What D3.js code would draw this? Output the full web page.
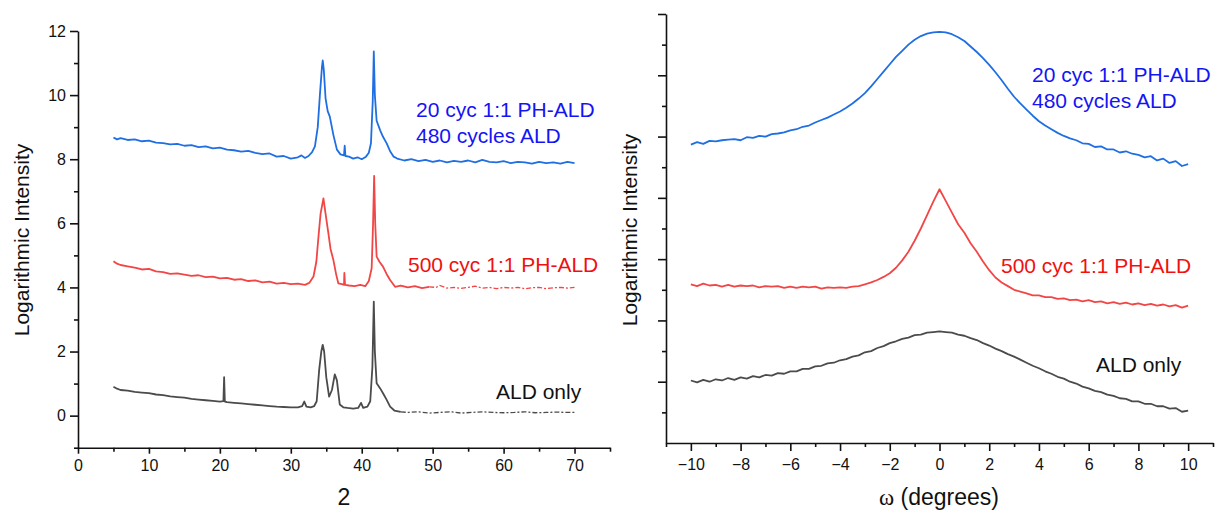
<!DOCTYPE html>
<html><head><meta charset="utf-8">
<script src="https://cdn.jsdelivr.net/npm/d3@7"></script>
<style>
body{margin:0;background:#fff;}
svg{font-family:"Liberation Sans",Arial,sans-serif;}
</style></head>
<body><svg id="c" width="1216" height="512"></svg>
<script>
// ---------- Left panel (XRD, 2θ) ----------
const xrdBlueX=[5,5.5,6,7,8,9,10,11,12,13,14,15,16,17,18,19,20,21,22,23,24,25,26,27,28,29,30,31,31.5,32,32.5,33,33.4,33.8,34.1,34.4,34.5,34.65,34.9,35.2,35.5,36,36.5,37,37.5,37.6,37.7,38.2,38.8,39.4,40,40.6,41,41.3,41.55,41.7,41.85,42.1,42.6,43,43.5,44,44.5,45,46,47,48,49,50,51,52,53,54,55,56,57,58,59,60,61,62,63,64,65,66,67,68,69,70];
const xrdBlueY=[8.68,8.62,8.66,8.6,8.62,8.56,8.58,8.52,8.5,8.46,8.48,8.42,8.44,8.38,8.4,8.34,8.36,8.3,8.28,8.24,8.26,8.2,8.16,8.18,8.08,8.1,8.02,8.06,8.12,8.04,8.1,8.22,8.4,9.0,10.0,10.9,11.08,10.8,9.9,9.5,9.33,8.76,8.3,8.15,8.12,8.42,8.1,8.08,8.02,8.06,8.0,8.08,8.2,8.5,9.8,11.36,10.0,9.2,8.9,8.7,8.5,8.25,8.08,8.02,7.96,8.0,7.94,7.98,7.92,7.96,7.9,7.95,7.92,7.96,7.9,7.98,7.92,7.9,7.94,7.88,7.92,7.9,7.86,7.92,7.88,7.9,7.86,7.92,7.88];
const xrdRedX=[5,5.5,6,7,8,9,10,11,12,13,14,15,16,17,18,19,20,21,22,23,24,25,26,27,28,29,30,31,32,32.6,33.2,33.6,33.9,34.2,34.6,34.9,35.3,35.6,36,36.4,36.7,37.2,37.5,37.55,37.65,38.2,39,39.8,40.5,41,41.4,41.6,41.75,41.9,42.1,42.5,43,43.5,44,44.7,45.5,46.5,47.5,48.5,49.5,50.5,51,52,53,54,55,56,57,58,59,60,61,62,63,64,65,66,67,68,69,70];
const xrdRedY=[4.82,4.74,4.7,4.66,4.62,4.56,4.58,4.5,4.48,4.42,4.44,4.4,4.36,4.38,4.32,4.34,4.28,4.3,4.24,4.26,4.2,4.22,4.16,4.18,4.12,4.14,4.1,4.12,4.08,4.14,4.34,4.8,5.58,6.3,6.78,6.3,5.69,5.2,4.86,4.4,4.13,4.1,4.08,4.45,4.08,4.06,4.04,4.08,4.04,4.2,4.6,6.0,7.48,6.0,4.96,4.8,4.65,4.42,4.23,4.02,4.06,4.0,4.04,3.98,4.02,4.0,4.06,3.98,4.0,3.97,4.0,4.04,3.98,4.0,3.96,4.0,3.98,4.0,3.96,3.99,4.0,3.96,3.99,4.0,3.98,4.0];
const xrdGrayX=[5,5.5,6,7,8,9,10,11,12,13,14,15,16,17,18,19,20,20.5,20.6,20.7,21,22,23,24,25,26,27,28,29,30,31,31.6,31.9,32.2,32.8,33.3,33.65,34,34.3,34.5,34.7,35,35.4,35.8,36.2,36.5,36.9,37.4,38,38.8,39.5,39.9,40.2,40.8,41.2,41.5,41.7,41.85,42.1,42.6,43,43.5,44,44.6,45.5,46.5,48,49.5,51,52.5,54,55.5,57,58.5,60,61.5,63,64.5,66,67.5,69,70];
const xrdGrayY=[0.9,0.84,0.8,0.78,0.74,0.72,0.7,0.66,0.64,0.6,0.58,0.56,0.52,0.5,0.48,0.46,0.44,0.45,1.2,0.44,0.42,0.4,0.38,0.36,0.34,0.32,0.3,0.28,0.27,0.26,0.26,0.3,0.44,0.28,0.26,0.3,0.45,1.43,2.0,2.21,2.0,1.2,0.59,0.8,1.29,1.1,0.35,0.26,0.24,0.22,0.24,0.4,0.24,0.28,0.45,1.5,3.56,2.0,1.01,0.85,0.7,0.5,0.28,0.16,0.12,0.1,0.12,0.08,0.1,0.12,0.08,0.1,0.12,0.1,0.09,0.1,0.12,0.09,0.1,0.11,0.1,0.1];
const leftXTicks=[0,10,20,30,40,50,60,70];
const leftYTicks=[0,2,4,6,8,10,12];

// ---------- Right panel (rocking curve, ω) ----------
const omega=[-10,-9.75,-9.5,-9.25,-9,-8.75,-8.5,-8.25,-8,-7.75,-7.5,-7.25,-7,-6.75,-6.5,-6.25,-6,-5.75,-5.5,-5.25,-5,-4.75,-4.5,-4.25,-4,-3.75,-3.5,-3.25,-3,-2.75,-2.5,-2.25,-2,-1.75,-1.5,-1.25,-1,-0.75,-0.5,-0.25,0,0.25,0.5,0.75,1,1.25,1.5,1.75,2,2.25,2.5,2.75,3,3.25,3.5,3.75,4,4.25,4.5,4.75,5,5.25,5.5,5.75,6,6.25,6.5,6.75,7,7.25,7.5,7.75,8,8.25,8.5,8.75,9,9.25,9.5,9.75,10];
const rcBlue=[4.87,4.91,4.88,4.93,4.92,4.94,4.95,4.96,4.94,4.99,4.98,5.01,5.0,5.04,5.05,5.07,5.1,5.12,5.16,5.18,5.23,5.27,5.31,5.36,5.41,5.47,5.54,5.62,5.71,5.82,5.94,6.06,6.18,6.3,6.4,6.5,6.58,6.64,6.68,6.7,6.71,6.7,6.67,6.62,6.56,6.47,6.38,6.28,6.17,6.05,5.92,5.78,5.65,5.54,5.44,5.34,5.25,5.18,5.12,5.06,5.01,4.97,4.94,4.89,4.88,4.83,4.84,4.79,4.79,4.74,4.76,4.72,4.7,4.66,4.68,4.61,4.64,4.57,4.6,4.52,4.55];
const rcRed=[2.59,2.56,2.6,2.57,2.58,2.55,2.58,2.55,2.57,2.56,2.57,2.54,2.56,2.55,2.56,2.53,2.55,2.53,2.55,2.54,2.55,2.52,2.54,2.53,2.54,2.53,2.55,2.56,2.59,2.62,2.66,2.71,2.77,2.86,2.98,3.12,3.3,3.5,3.72,3.94,4.14,3.95,3.76,3.57,3.43,3.26,3.12,2.96,2.82,2.7,2.62,2.56,2.5,2.47,2.44,2.41,2.41,2.38,2.38,2.35,2.36,2.33,2.34,2.31,2.33,2.3,2.31,2.28,2.3,2.27,2.29,2.26,2.28,2.25,2.27,2.24,2.26,2.23,2.25,2.21,2.24];
const rcGray=[1.02,0.99,1.03,1.0,1.04,1.02,1.06,1.03,1.07,1.05,1.09,1.07,1.11,1.1,1.14,1.13,1.17,1.17,1.21,1.21,1.25,1.26,1.3,1.31,1.35,1.37,1.41,1.43,1.48,1.5,1.55,1.58,1.63,1.66,1.7,1.72,1.76,1.77,1.8,1.81,1.82,1.81,1.8,1.77,1.75,1.71,1.68,1.63,1.59,1.54,1.5,1.45,1.41,1.36,1.31,1.26,1.22,1.17,1.13,1.08,1.05,1.0,0.97,0.92,0.89,0.85,0.83,0.79,0.77,0.73,0.72,0.68,0.68,0.64,0.64,0.6,0.6,0.56,0.57,0.51,0.53];
const rightXTicks=[-10,-8,-6,-4,-2,0,2,4,6,8,10];

const seriesNames=["20 cyc 1:1 PH-ALD","480 cycles ALD","500 cyc 1:1 PH-ALD","ALD only"];
const lineColors={blue:"#1f6fe3",red:"#f24646",gray:"#4b4b4b"};
const textColors={blue:"#1414f5",red:"#f01010",gray:"#111111"};

const svg=d3.select("#c");
const AX="#111";
const TICKFONT=16, YTITLE=21, XTITLE=23, LEGEND=21;

function styleAxis(g){
  g.selectAll("path.domain").attr("stroke",AX).attr("stroke-width",1.6);
  g.selectAll(".tick line").attr("stroke",AX).attr("stroke-width",1.6);
  g.selectAll(".tick text").attr("fill","#111").attr("font-size",TICKFONT).attr("font-family","Liberation Sans, Arial, sans-serif");
}

// ===== LEFT =====
const lx=d3.scaleLinear().domain([0,75]).range([78,610]);
const ly=d3.scaleLinear().domain([-1,12]).range([447.7,31]);

svg.append("g").attr("transform","translate(0,447.7)")
  .call(d3.axisBottom(lx).tickValues(d3.range(5,76,10)).tickSize(4).tickFormat("").tickSizeOuter(0))
  .call(g=>{styleAxis(g);g.select("path.domain").remove();});
svg.append("g").attr("transform","translate(78,0)")
  .call(d3.axisLeft(ly).tickValues(d3.range(-1,12,2)).tickSize(4).tickFormat("").tickSizeOuter(0))
  .call(g=>{styleAxis(g);g.select("path.domain").remove();});
svg.append("g").attr("transform","translate(0,447.7)")
  .call(d3.axisBottom(lx).tickValues(leftXTicks).tickSize(6).tickPadding(6).tickSizeOuter(0))
  .call(styleAxis);
svg.append("g").attr("transform","translate(78,0)")
  .call(d3.axisLeft(ly).tickValues(leftYTicks).tickSize(8).tickPadding(4).tickSizeOuter(0))
  .call(styleAxis);

const lineL=d3.line().x(d=>lx(d[0])).y(d=>ly(d[1]));
// solid body, then a sparse-looking (dashed, thinner) tail where the scan data thins out
function drawL(xs,ys,color,w,tailFrom){
  const pts=xs.map((x,i)=>[x,ys[i]]);
  const body=pts.filter(p=>p[0]<=tailFrom), tail=pts.filter(p=>p[0]>=tailFrom);
  svg.append("path").datum(body).attr("d",lineL).attr("fill","none").attr("stroke",color)
    .attr("stroke-width",w).attr("stroke-linejoin","round");
  if(tail.length>1) svg.append("path").datum(tail).attr("d",lineL).attr("fill","none").attr("stroke",color)
    .attr("stroke-width",1.3).attr("stroke-dasharray","5,2,2,2");
}
drawL(xrdBlueX,xrdBlueY,lineColors.blue,1.8,70);
drawL(xrdRedX,xrdRedY,lineColors.red,1.8,49.5);
drawL(xrdGrayX,xrdGrayY,lineColors.gray,1.8,45.5);

svg.append("text").attr("transform","translate(29,240) rotate(-90)").attr("text-anchor","middle")
  .attr("font-size",YTITLE).attr("fill","#111").text("Logarithmic Intensity");
svg.append("text").attr("x",344).attr("y",505).attr("text-anchor","middle").attr("font-size",XTITLE).attr("fill","#111").text("2");

svg.append("text").attr("x",416).attr("y",117).attr("font-size",LEGEND).attr("fill",textColors.blue).text(seriesNames[0]);
svg.append("text").attr("x",416).attr("y",143).attr("font-size",LEGEND).attr("fill",textColors.blue).text(seriesNames[1]);
svg.append("text").attr("x",408).attr("y",272).attr("font-size",LEGEND).attr("fill",textColors.red).text(seriesNames[2]);
svg.append("text").attr("x",496).attr("y",399).attr("font-size",LEGEND).attr("fill",textColors.gray).text(seriesNames[3]);

// ===== RIGHT =====
const rx=d3.scaleLinear().domain([-11,11]).range([666,1213]);
const ry=d3.scaleLinear().domain([0,7]).range([443,14]);

svg.append("g").attr("transform","translate(0,443)")
  .call(d3.axisBottom(rx).tickValues(d3.range(-11,12,2)).tickSize(4).tickFormat("").tickSizeOuter(0))
  .call(g=>{styleAxis(g);g.select("path.domain").remove();});
svg.append("g").attr("transform","translate(666,0)")
  .call(d3.axisLeft(ry).tickValues(d3.range(0.5,7,1)).tickSize(4).tickFormat("").tickSizeOuter(0))
  .call(g=>{styleAxis(g);g.select("path.domain").remove();});
svg.append("g").attr("transform","translate(0,443)")
  .call(d3.axisBottom(rx).tickValues(rightXTicks).tickSize(8).tickPadding(8).tickSizeOuter(0))
  .call(styleAxis);
svg.append("g").attr("transform","translate(666,0)")
  .call(d3.axisLeft(ry).tickValues(d3.range(1,8,1)).tickSize(8).tickFormat("").tickSizeOuter(0))
  .call(styleAxis);

const lineR=d3.line().x(d=>rx(d[0])).y(d=>ry(d[1]));
function drawR(ys,color,w){
  svg.append("path").datum(omega.map((x,i)=>[x,ys[i]]))
    .attr("d",lineR).attr("fill","none").attr("stroke",color).attr("stroke-width",w).attr("stroke-linejoin","round");
}
drawR(rcBlue,lineColors.blue,1.8);
drawR(rcRed,lineColors.red,1.8);
drawR(rcGray,lineColors.gray,1.8);

svg.append("text").attr("transform","translate(637,230) rotate(-90)").attr("text-anchor","middle")
  .attr("font-size",YTITLE).attr("fill","#111").text("Logarithmic Intensity");
const xt=svg.append("text").attr("x",939).attr("y",505).attr("text-anchor","middle").attr("font-size",XTITLE).attr("fill","#111");
xt.append("tspan").attr("font-family","Liberation Serif, Times New Roman, serif").text("ω");
xt.append("tspan").text(" (degrees)");

svg.append("text").attr("x",1032).attr("y",82).attr("font-size",LEGEND).attr("fill",textColors.blue).text(seriesNames[0]);
svg.append("text").attr("x",1032).attr("y",108).attr("font-size",LEGEND).attr("fill",textColors.blue).text(seriesNames[1]);
svg.append("text").attr("x",1001).attr("y",273).attr("font-size",LEGEND).attr("fill",textColors.red).text(seriesNames[2]);
svg.append("text").attr("x",1096).attr("y",372).attr("font-size",LEGEND).attr("fill",textColors.gray).text(seriesNames[3]);
</script></body></html>
